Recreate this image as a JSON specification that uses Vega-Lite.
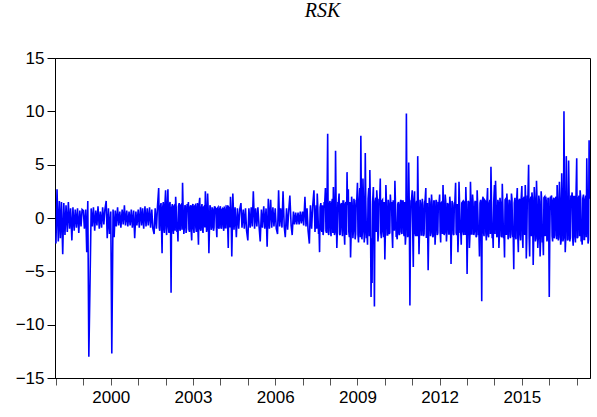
{
"$schema": "https://vega.github.io/schema/vega-lite/v6.json",
"width": 535, "height": 320,
"autosize": {"type": "none"},
"padding": {"left": 55, "top": 58, "right": 7, "bottom": 39},
"background": "white",
"title": {"text": "RSK", "font": "Liberation Serif", "fontStyle": "italic", "fontWeight": "normal", "fontSize": 20, "color": "black", "offset": 28, "anchor": "middle"},
"data": {"values": [
{"d":"1998-01-01","r":-2.4},{"d":"1998-01-15","r":2.7},{"d":"1998-02-01","r":-2.2},{"d":"1998-02-15","r":1.6},{"d":"1998-03-01","r":-1.9},{"d":"1998-03-15","r":1.5},{"d":"1998-04-01","r":-3.4},{"d":"1998-04-15","r":1.4},{"d":"1998-05-01","r":-1.6},{"d":"1998-05-15","r":1.2},{"d":"1998-06-01","r":-1.3},{"d":"1998-06-15","r":1.5},{"d":"1998-07-01","r":-1.0},{"d":"1998-07-15","r":0.9},{"d":"1998-08-01","r":-2.1},{"d":"1998-08-15","r":1.0},{"d":"1998-09-01","r":-1.2},{"d":"1998-09-15","r":0.8},{"d":"1998-10-01","r":-0.9},{"d":"1998-10-15","r":0.9},{"d":"1998-11-01","r":-1.4},{"d":"1998-11-15","r":0.7},{"d":"1998-12-01","r":-0.8},{"d":"1998-12-15","r":0.8},
{"d":"1999-01-01","r":0.7},{"d":"1999-01-15","r":-1.0},{"d":"1999-02-01","r":0.8},{"d":"1999-02-15","r":-3.2},{"d":"1999-03-01","r":1.6},{"d":"1999-03-15","r":-13.0},{"d":"1999-04-01","r":-5.5},{"d":"1999-04-15","r":0.9},{"d":"1999-05-01","r":-0.8},{"d":"1999-05-15","r":1.0},{"d":"1999-06-01","r":-1.2},{"d":"1999-06-15","r":0.7},{"d":"1999-07-01","r":-0.7},{"d":"1999-07-15","r":1.1},{"d":"1999-08-01","r":-1.0},{"d":"1999-08-15","r":0.6},{"d":"1999-09-01","r":-0.9},{"d":"1999-09-15","r":1.0},{"d":"1999-10-01","r":-0.6},{"d":"1999-10-15","r":0.8},{"d":"1999-11-01","r":1.6},{"d":"1999-11-15","r":-1.9},{"d":"1999-12-01","r":0.9},{"d":"1999-12-15","r":-1.5},
{"d":"2000-01-01","r":0.6},{"d":"2000-01-15","r":-12.7},{"d":"2000-02-01","r":0.8},{"d":"2000-02-15","r":-1.8},{"d":"2000-03-01","r":0.7},{"d":"2000-03-15","r":-0.8},{"d":"2000-04-01","r":1.0},{"d":"2000-04-15","r":-0.7},{"d":"2000-05-01","r":0.6},{"d":"2000-05-15","r":-0.9},{"d":"2000-06-01","r":0.8},{"d":"2000-06-15","r":-0.6},{"d":"2000-07-01","r":1.2},{"d":"2000-07-15","r":-0.7},{"d":"2000-08-01","r":0.7},{"d":"2000-08-15","r":-0.8},{"d":"2000-09-01","r":0.6},{"d":"2000-09-15","r":-0.7},{"d":"2000-10-01","r":0.8},{"d":"2000-10-15","r":-0.9},{"d":"2000-11-01","r":0.7},{"d":"2000-11-15","r":-1.9},{"d":"2000-12-01","r":0.6},{"d":"2000-12-15","r":-0.7},
{"d":"2001-01-01","r":0.8},{"d":"2001-01-15","r":-0.9},{"d":"2001-02-01","r":1.0},{"d":"2001-02-15","r":-0.7},{"d":"2001-03-01","r":0.9},{"d":"2001-03-15","r":-1.0},{"d":"2001-04-01","r":1.1},{"d":"2001-04-15","r":-0.8},{"d":"2001-05-01","r":0.9},{"d":"2001-05-15","r":-0.7},{"d":"2001-06-01","r":1.0},{"d":"2001-06-15","r":-0.9},{"d":"2001-07-01","r":0.8},{"d":"2001-07-15","r":-1.0},{"d":"2001-08-01","r":-1.5},{"d":"2001-08-15","r":0.9},{"d":"2001-09-01","r":-1.0},{"d":"2001-09-15","r":1.1},{"d":"2001-10-01","r":2.8},{"d":"2001-10-15","r":-1.2},{"d":"2001-11-01","r":1.4},{"d":"2001-11-15","r":-3.3},{"d":"2001-12-01","r":1.5},{"d":"2001-12-15","r":-1.4},
{"d":"2002-01-01","r":2.6},{"d":"2002-01-15","r":-1.6},{"d":"2002-02-01","r":2.7},{"d":"2002-02-15","r":-1.4},{"d":"2002-03-01","r":1.5},{"d":"2002-03-15","r":-7.0},{"d":"2002-04-01","r":1.3},{"d":"2002-04-15","r":-1.5},{"d":"2002-05-01","r":1.2},{"d":"2002-05-15","r":2.0},{"d":"2002-06-01","r":-1.3},{"d":"2002-06-15","r":-2.2},{"d":"2002-07-01","r":1.4},{"d":"2002-07-15","r":-1.2},{"d":"2002-08-01","r":1.3},{"d":"2002-08-15","r":3.3},{"d":"2002-09-01","r":-1.5},{"d":"2002-09-15","r":1.2},{"d":"2002-10-01","r":-1.4},{"d":"2002-10-15","r":1.3},{"d":"2002-11-01","r":1.5},{"d":"2002-11-15","r":-1.3},{"d":"2002-12-01","r":1.2},{"d":"2002-12-15","r":-2.1},
{"d":"2003-01-01","r":1.3},{"d":"2003-01-15","r":-1.4},{"d":"2003-02-01","r":1.2},{"d":"2003-02-15","r":-1.3},{"d":"2003-03-01","r":1.4},{"d":"2003-03-15","r":-2.5},{"d":"2003-04-01","r":1.9},{"d":"2003-04-15","r":-1.2},{"d":"2003-05-01","r":1.3},{"d":"2003-05-15","r":-1.4},{"d":"2003-06-01","r":1.1},{"d":"2003-06-15","r":2.5},{"d":"2003-07-01","r":-1.3},{"d":"2003-07-15","r":2.3},{"d":"2003-08-01","r":-3.3},{"d":"2003-08-15","r":1.2},{"d":"2003-09-01","r":-1.1},{"d":"2003-09-15","r":1.0},{"d":"2003-10-01","r":-1.2},{"d":"2003-10-15","r":1.1},{"d":"2003-11-01","r":0.9},{"d":"2003-11-15","r":-1.8},{"d":"2003-12-01","r":1.0},{"d":"2003-12-15","r":-1.0},
{"d":"2004-01-01","r":1.1},{"d":"2004-01-15","r":-1.0},{"d":"2004-02-01","r":0.9},{"d":"2004-02-15","r":-1.2},{"d":"2004-03-01","r":1.0},{"d":"2004-03-15","r":-0.9},{"d":"2004-04-01","r":1.2},{"d":"2004-04-15","r":-2.8},{"d":"2004-05-01","r":0.9},{"d":"2004-05-15","r":2.0},{"d":"2004-06-01","r":-3.6},{"d":"2004-06-15","r":2.3},{"d":"2004-07-01","r":-1.1},{"d":"2004-07-15","r":1.0},{"d":"2004-08-01","r":-1.8},{"d":"2004-08-15","r":0.9},{"d":"2004-09-01","r":-1.0},{"d":"2004-09-15","r":0.8},{"d":"2004-10-01","r":1.4},{"d":"2004-10-15","r":-0.9},{"d":"2004-11-01","r":0.8},{"d":"2004-11-15","r":-1.0},{"d":"2004-12-01","r":0.9},{"d":"2004-12-15","r":-1.2},
{"d":"2005-01-01","r":-2.1},{"d":"2005-01-15","r":0.9},{"d":"2005-02-01","r":-0.9},{"d":"2005-02-15","r":1.0},{"d":"2005-03-01","r":-0.8},{"d":"2005-03-15","r":2.5},{"d":"2005-04-01","r":-1.0},{"d":"2005-04-15","r":0.9},{"d":"2005-05-01","r":-0.8},{"d":"2005-05-15","r":1.0},{"d":"2005-06-01","r":-0.9},{"d":"2005-06-15","r":-2.2},{"d":"2005-07-01","r":0.8},{"d":"2005-07-15","r":-0.9},{"d":"2005-08-01","r":1.1},{"d":"2005-08-15","r":-1.0},{"d":"2005-09-01","r":0.9},{"d":"2005-09-15","r":-2.7},{"d":"2005-10-01","r":1.8},{"d":"2005-10-15","r":-1.0},{"d":"2005-11-01","r":1.7},{"d":"2005-11-15","r":-0.9},{"d":"2005-12-01","r":1.0},{"d":"2005-12-15","r":-0.8},
{"d":"2006-01-01","r":0.9},{"d":"2006-01-15","r":-1.0},{"d":"2006-02-01","r":-1.5},{"d":"2006-02-15","r":2.6},{"d":"2006-03-01","r":-0.8},{"d":"2006-03-15","r":0.9},{"d":"2006-04-01","r":-0.9},{"d":"2006-04-15","r":2.5},{"d":"2006-05-01","r":-0.8},{"d":"2006-05-15","r":-1.8},{"d":"2006-06-01","r":0.9},{"d":"2006-06-15","r":-1.1},{"d":"2006-07-01","r":0.8},{"d":"2006-07-15","r":2.1},{"d":"2006-08-01","r":-0.7},{"d":"2006-08-15","r":-1.6},{"d":"2006-09-01","r":0.6},{"d":"2006-09-15","r":-0.6},{"d":"2006-10-01","r":0.5},{"d":"2006-10-15","r":-0.6},{"d":"2006-11-01","r":0.5},{"d":"2006-11-15","r":-0.6},{"d":"2006-12-01","r":0.6},{"d":"2006-12-15","r":-0.5},
{"d":"2007-01-01","r":0.6},{"d":"2007-01-15","r":-0.7},{"d":"2007-02-01","r":2.0},{"d":"2007-02-15","r":-0.8},{"d":"2007-03-01","r":0.9},{"d":"2007-03-15","r":-1.2},{"d":"2007-04-01","r":-2.4},{"d":"2007-04-15","r":1.2},{"d":"2007-05-01","r":-1.0},{"d":"2007-05-15","r":1.1},{"d":"2007-06-01","r":2.6},{"d":"2007-06-15","r":-1.3},{"d":"2007-07-01","r":1.2},{"d":"2007-07-15","r":2.3},{"d":"2007-08-01","r":-1.5},{"d":"2007-08-15","r":-3.2},{"d":"2007-09-01","r":1.4},{"d":"2007-09-15","r":-1.3},{"d":"2007-10-01","r":-1.6},{"d":"2007-10-15","r":1.5},{"d":"2007-11-01","r":2.8},{"d":"2007-11-15","r":-1.4},{"d":"2007-12-01","r":7.9},{"d":"2007-12-15","r":-1.6},
{"d":"2008-01-01","r":1.6},{"d":"2008-01-15","r":-1.7},{"d":"2008-02-01","r":1.8},{"d":"2008-02-15","r":2.9},{"d":"2008-03-01","r":-1.6},{"d":"2008-03-15","r":6.3},{"d":"2008-04-01","r":-2.8},{"d":"2008-04-15","r":1.5},{"d":"2008-05-01","r":2.3},{"d":"2008-05-15","r":-1.6},{"d":"2008-06-01","r":1.4},{"d":"2008-06-15","r":-1.7},{"d":"2008-07-01","r":1.6},{"d":"2008-07-15","r":-2.5},{"d":"2008-08-01","r":1.5},{"d":"2008-08-15","r":4.3},{"d":"2008-09-01","r":2.7},{"d":"2008-09-15","r":-1.8},{"d":"2008-10-01","r":-3.7},{"d":"2008-10-15","r":2.0},{"d":"2008-11-01","r":-1.9},{"d":"2008-11-15","r":1.8},{"d":"2008-12-01","r":-2.0},{"d":"2008-12-15","r":1.7},
{"d":"2009-01-01","r":3.3},{"d":"2009-01-15","r":-2.3},{"d":"2009-02-01","r":2.8},{"d":"2009-02-15","r":7.7},{"d":"2009-03-01","r":-2.0},{"d":"2009-03-15","r":3.7},{"d":"2009-04-01","r":-2.3},{"d":"2009-04-15","r":6.1},{"d":"2009-05-01","r":-1.9},{"d":"2009-05-15","r":-2.5},{"d":"2009-06-01","r":2.8},{"d":"2009-06-15","r":4.5},{"d":"2009-07-01","r":-7.4},{"d":"2009-07-15","r":-6.1},{"d":"2009-08-01","r":2.9},{"d":"2009-08-15","r":-8.3},{"d":"2009-09-01","r":1.9},{"d":"2009-09-15","r":2.6},{"d":"2009-10-01","r":-2.2},{"d":"2009-10-15","r":1.8},{"d":"2009-11-01","r":3.7},{"d":"2009-11-15","r":-1.9},{"d":"2009-12-01","r":1.7},{"d":"2009-12-15","r":-1.8},
{"d":"2010-01-01","r":-3.9},{"d":"2010-01-15","r":3.1},{"d":"2010-02-01","r":-1.6},{"d":"2010-02-15","r":1.7},{"d":"2010-03-01","r":-1.5},{"d":"2010-03-15","r":2.2},{"d":"2010-04-01","r":1.5},{"d":"2010-04-15","r":-2.8},{"d":"2010-05-01","r":1.6},{"d":"2010-05-15","r":3.5},{"d":"2010-06-01","r":-1.7},{"d":"2010-06-15","r":-2.0},{"d":"2010-07-01","r":1.5},{"d":"2010-07-15","r":-1.6},{"d":"2010-08-01","r":1.7},{"d":"2010-08-15","r":-1.5},{"d":"2010-09-01","r":1.6},{"d":"2010-09-15","r":-1.7},{"d":"2010-10-01","r":-2.5},{"d":"2010-10-15","r":9.8},{"d":"2010-11-01","r":-1.8},{"d":"2010-11-15","r":5.2},{"d":"2010-12-01","r":-8.2},{"d":"2010-12-15","r":1.6},
{"d":"2011-01-01","r":2.6},{"d":"2011-01-15","r":-4.6},{"d":"2011-02-01","r":2.5},{"d":"2011-02-15","r":-1.7},{"d":"2011-03-01","r":1.6},{"d":"2011-03-15","r":5.8},{"d":"2011-04-01","r":-3.4},{"d":"2011-04-15","r":1.7},{"d":"2011-05-01","r":-1.6},{"d":"2011-05-15","r":1.8},{"d":"2011-06-01","r":-1.7},{"d":"2011-06-15","r":1.5},{"d":"2011-07-01","r":2.8},{"d":"2011-07-15","r":-1.8},{"d":"2011-08-01","r":-4.9},{"d":"2011-08-15","r":1.9},{"d":"2011-09-01","r":-1.7},{"d":"2011-09-15","r":2.2},{"d":"2011-10-01","r":-1.8},{"d":"2011-10-15","r":1.6},{"d":"2011-11-01","r":-2.5},{"d":"2011-11-15","r":1.7},{"d":"2011-12-01","r":-1.6},{"d":"2011-12-15","r":1.5},
{"d":"2012-01-01","r":2.2},{"d":"2012-01-15","r":-2.3},{"d":"2012-02-01","r":1.5},{"d":"2012-02-15","r":3.1},{"d":"2012-03-01","r":-1.6},{"d":"2012-03-15","r":2.2},{"d":"2012-04-01","r":-2.2},{"d":"2012-04-15","r":1.4},{"d":"2012-05-01","r":-1.5},{"d":"2012-05-15","r":2.0},{"d":"2012-06-01","r":-4.3},{"d":"2012-06-15","r":1.6},{"d":"2012-07-01","r":-1.5},{"d":"2012-07-15","r":1.4},{"d":"2012-08-01","r":3.3},{"d":"2012-08-15","r":-1.6},{"d":"2012-09-01","r":-3.2},{"d":"2012-09-15","r":3.4},{"d":"2012-10-01","r":-1.4},{"d":"2012-10-15","r":-2.5},{"d":"2012-11-01","r":1.5},{"d":"2012-11-15","r":-1.6},{"d":"2012-12-01","r":1.4},{"d":"2012-12-15","r":2.9},
{"d":"2013-01-01","r":-5.25},{"d":"2013-01-15","r":1.6},{"d":"2013-02-01","r":-2.8},{"d":"2013-02-15","r":3.4},{"d":"2013-03-01","r":-1.5},{"d":"2013-03-15","r":2.2},{"d":"2013-04-01","r":-1.6},{"d":"2013-04-15","r":1.5},{"d":"2013-05-01","r":-1.8},{"d":"2013-05-15","r":2.6},{"d":"2013-06-01","r":-1.6},{"d":"2013-06-15","r":-3.6},{"d":"2013-07-01","r":1.7},{"d":"2013-07-15","r":-7.8},{"d":"2013-08-01","r":2.0},{"d":"2013-08-15","r":-1.7},{"d":"2013-09-01","r":1.6},{"d":"2013-09-15","r":-2.1},{"d":"2013-10-01","r":2.8},{"d":"2013-10-15","r":-1.8},{"d":"2013-11-01","r":1.7},{"d":"2013-11-15","r":4.8},{"d":"2013-12-01","r":-1.9},{"d":"2013-12-15","r":-2.8},
{"d":"2014-01-01","r":3.1},{"d":"2014-01-15","r":3.5},{"d":"2014-02-01","r":-1.8},{"d":"2014-02-15","r":1.7},{"d":"2014-03-01","r":-2.8},{"d":"2014-03-15","r":1.9},{"d":"2014-04-01","r":-1.7},{"d":"2014-04-15","r":3.2},{"d":"2014-05-01","r":-1.9},{"d":"2014-05-15","r":-3.7},{"d":"2014-06-01","r":1.8},{"d":"2014-06-15","r":2.3},{"d":"2014-07-01","r":-2.0},{"d":"2014-07-15","r":1.7},{"d":"2014-08-01","r":-1.9},{"d":"2014-08-15","r":2.3},{"d":"2014-09-01","r":-1.8},{"d":"2014-09-15","r":-4.8},{"d":"2014-10-01","r":1.9},{"d":"2014-10-15","r":-2.0},{"d":"2014-11-01","r":2.8},{"d":"2014-11-15","r":-3.2},{"d":"2014-12-01","r":1.8},{"d":"2014-12-15","r":-2.1},
{"d":"2015-01-01","r":3.0},{"d":"2015-01-15","r":-2.8},{"d":"2015-02-01","r":2.0},{"d":"2015-02-15","r":3.1},{"d":"2015-03-01","r":-3.8},{"d":"2015-03-15","r":2.1},{"d":"2015-04-01","r":5.0},{"d":"2015-04-15","r":-3.6},{"d":"2015-05-01","r":2.0},{"d":"2015-05-15","r":2.4},{"d":"2015-06-01","r":-4.4},{"d":"2015-06-15","r":2.9},{"d":"2015-07-01","r":-2.2},{"d":"2015-07-15","r":3.5},{"d":"2015-08-01","r":-2.8},{"d":"2015-08-15","r":2.1},{"d":"2015-09-01","r":-3.6},{"d":"2015-09-15","r":2.5},{"d":"2015-10-01","r":-2.3},{"d":"2015-10-15","r":-3.5},{"d":"2015-11-01","r":2.0},{"d":"2015-11-15","r":2.0},{"d":"2015-12-01","r":-2.2},{"d":"2015-12-15","r":1.9},
{"d":"2016-01-01","r":-7.4},{"d":"2016-01-15","r":2.0},{"d":"2016-02-01","r":2.1},{"d":"2016-02-15","r":-2.2},{"d":"2016-03-01","r":1.9},{"d":"2016-03-15","r":-1.6},{"d":"2016-04-01","r":2.0},{"d":"2016-04-15","r":3.1},{"d":"2016-05-01","r":-2.1},{"d":"2016-05-15","r":3.4},{"d":"2016-06-01","r":-2.5},{"d":"2016-06-15","r":4.2},{"d":"2016-07-01","r":-2.2},{"d":"2016-07-15","r":10.0},{"d":"2016-08-01","r":-3.2},{"d":"2016-08-15","r":5.8},{"d":"2016-09-01","r":-2.1},{"d":"2016-09-15","r":5.4},{"d":"2016-10-01","r":-2.2},{"d":"2016-10-15","r":2.1},{"d":"2016-11-01","r":2.4},{"d":"2016-11-15","r":-2.6},{"d":"2016-12-01","r":2.0},{"d":"2016-12-15","r":-2.3},
{"d":"2017-01-01","r":5.6},{"d":"2017-01-15","r":-1.8},{"d":"2017-02-01","r":2.1},{"d":"2017-02-15","r":2.6},{"d":"2017-03-01","r":-2.2},{"d":"2017-03-15","r":-2.5},{"d":"2017-04-01","r":2.2},{"d":"2017-04-15","r":-2.0},{"d":"2017-05-01","r":2.1},{"d":"2017-05-15","r":5.6},{"d":"2017-06-01","r":-2.4},{"d":"2017-06-15","r":7.3},
{"d":"2001-10-08","r":-0.9},{"d":"2001-10-22","r":1.0},{"d":"2001-11-08","r":-1.1},{"d":"2001-11-22","r":0.9},{"d":"2001-12-08","r":-1.0},{"d":"2001-12-22","r":1.1},
{"d":"2002-01-08","r":-1.0},{"d":"2002-01-22","r":1.1},{"d":"2002-02-08","r":-0.9},{"d":"2002-02-22","r":1.2},{"d":"2002-03-08","r":-1.1},{"d":"2002-03-22","r":0.9},{"d":"2002-04-08","r":-1.0},{"d":"2002-04-22","r":1.1},{"d":"2002-05-08","r":-1.2},{"d":"2002-05-22","r":1.0},{"d":"2002-06-08","r":-0.9},{"d":"2002-06-22","r":1.1},{"d":"2002-07-08","r":-1.0},{"d":"2002-07-22","r":1.2},{"d":"2002-08-08","r":-1.1},{"d":"2002-08-22","r":1.0},{"d":"2002-09-08","r":-0.9},{"d":"2002-09-22","r":1.1},{"d":"2002-10-08","r":-1.0},{"d":"2002-10-22","r":0.9},{"d":"2002-11-08","r":-1.1},{"d":"2002-11-22","r":1.0},{"d":"2002-12-08","r":-1.2},{"d":"2002-12-22","r":1.1},
{"d":"2003-01-08","r":-1.0},{"d":"2003-01-22","r":1.1},{"d":"2003-02-08","r":-0.9},{"d":"2003-02-22","r":1.0},{"d":"2003-03-08","r":-1.1},{"d":"2003-03-22","r":1.2},{"d":"2003-04-08","r":-1.0},{"d":"2003-04-22","r":0.9},{"d":"2003-05-08","r":-1.1},{"d":"2003-05-22","r":1.0},{"d":"2003-06-08","r":-0.9},{"d":"2003-06-22","r":1.1},{"d":"2003-07-08","r":-1.0},{"d":"2003-07-22","r":0.9},{"d":"2003-08-08","r":-1.1},{"d":"2003-08-22","r":1.0},{"d":"2003-09-08","r":-0.9},{"d":"2003-09-22","r":0.8},{"d":"2003-10-08","r":-0.9},{"d":"2003-10-22","r":1.0},{"d":"2003-11-08","r":-0.8},{"d":"2003-11-22","r":0.9},{"d":"2003-12-08","r":-0.9},{"d":"2003-12-22","r":0.8},
{"d":"2004-01-08","r":-0.9},{"d":"2004-01-22","r":0.8},{"d":"2004-02-08","r":-0.8},{"d":"2004-02-22","r":0.9},{"d":"2004-03-08","r":-0.9},{"d":"2004-03-22","r":0.8},{"d":"2004-04-08","r":-0.9},{"d":"2004-04-22","r":1.0},{"d":"2004-05-08","r":-0.9},{"d":"2004-05-22","r":0.8},{"d":"2004-06-08","r":-1.0},{"d":"2004-06-22","r":0.9},
{"d":"2007-07-08","r":-1.0},{"d":"2007-07-22","r":1.1},{"d":"2007-08-08","r":-1.2},{"d":"2007-08-22","r":1.0},{"d":"2007-09-08","r":-1.1},{"d":"2007-09-22","r":1.2},{"d":"2007-10-08","r":-1.0},{"d":"2007-10-22","r":1.3},{"d":"2007-11-08","r":-1.2},{"d":"2007-11-22","r":1.1},{"d":"2007-12-08","r":-1.3},{"d":"2007-12-22","r":1.2},
{"d":"2008-01-08","r":-1.2},{"d":"2008-01-22","r":1.3},{"d":"2008-02-08","r":-1.4},{"d":"2008-02-22","r":1.1},{"d":"2008-03-08","r":-1.3},{"d":"2008-03-22","r":1.5},{"d":"2008-04-08","r":-1.2},{"d":"2008-04-22","r":1.4},{"d":"2008-05-08","r":-1.5},{"d":"2008-05-22","r":1.2},{"d":"2008-06-08","r":-1.1},{"d":"2008-06-22","r":1.6},{"d":"2008-07-08","r":-1.4},{"d":"2008-07-22","r":1.3},{"d":"2008-08-08","r":-1.6},{"d":"2008-08-22","r":1.2},{"d":"2008-09-08","r":-1.3},{"d":"2008-09-22","r":1.5},{"d":"2008-10-08","r":-1.7},{"d":"2008-10-22","r":1.4},{"d":"2008-11-08","r":-1.2},{"d":"2008-11-22","r":1.3},{"d":"2008-12-08","r":-1.5},{"d":"2008-12-22","r":1.6},
{"d":"2009-01-08","r":-1.6},{"d":"2009-01-22","r":1.4},{"d":"2009-02-08","r":-1.8},{"d":"2009-02-22","r":1.5},{"d":"2009-03-08","r":-1.3},{"d":"2009-03-22","r":1.7},{"d":"2009-04-08","r":-1.5},{"d":"2009-04-22","r":1.6},{"d":"2009-05-08","r":-1.4},{"d":"2009-05-22","r":1.8},{"d":"2009-06-08","r":-1.7},{"d":"2009-06-22","r":1.3},{"d":"2009-07-08","r":-1.9},{"d":"2009-07-22","r":1.5},{"d":"2009-08-08","r":-1.6},{"d":"2009-08-22","r":1.4},{"d":"2009-09-08","r":-1.3},{"d":"2009-09-22","r":1.7},{"d":"2009-10-08","r":-1.5},{"d":"2009-10-22","r":1.2},{"d":"2009-11-08","r":-1.4},{"d":"2009-11-22","r":1.6},{"d":"2009-12-08","r":-1.3},{"d":"2009-12-22","r":1.5},
{"d":"2010-01-08","r":-1.3},{"d":"2010-01-22","r":1.5},{"d":"2010-02-08","r":-1.6},{"d":"2010-02-22","r":1.2},{"d":"2010-03-08","r":-1.4},{"d":"2010-03-22","r":1.3},{"d":"2010-04-08","r":-1.5},{"d":"2010-04-22","r":1.6},{"d":"2010-05-08","r":-1.2},{"d":"2010-05-22","r":1.4},{"d":"2010-06-08","r":-1.7},{"d":"2010-06-22","r":1.3},{"d":"2010-07-08","r":-1.5},{"d":"2010-07-22","r":1.2},{"d":"2010-08-08","r":-1.3},{"d":"2010-08-22","r":1.6},{"d":"2010-09-08","r":-1.4},{"d":"2010-09-22","r":1.5},{"d":"2010-10-08","r":-1.6},{"d":"2010-10-22","r":1.3},{"d":"2010-11-08","r":-1.5},{"d":"2010-11-22","r":1.4},{"d":"2010-12-08","r":-1.3},{"d":"2010-12-22","r":1.7},
{"d":"2011-01-08","r":-1.5},{"d":"2011-01-22","r":1.6},{"d":"2011-02-08","r":-1.4},{"d":"2011-02-22","r":1.3},{"d":"2011-03-08","r":-1.7},{"d":"2011-03-22","r":1.5},{"d":"2011-04-08","r":-1.3},{"d":"2011-04-22","r":1.4},{"d":"2011-05-08","r":-1.6},{"d":"2011-05-22","r":1.2},{"d":"2011-06-08","r":-1.5},{"d":"2011-06-22","r":1.7},{"d":"2011-07-08","r":-1.8},{"d":"2011-07-22","r":1.4},{"d":"2011-08-08","r":-1.6},{"d":"2011-08-22","r":1.5},{"d":"2011-09-08","r":-1.4},{"d":"2011-09-22","r":1.3},{"d":"2011-10-08","r":-1.7},{"d":"2011-10-22","r":1.6},{"d":"2011-11-08","r":-1.3},{"d":"2011-11-22","r":1.5},{"d":"2011-12-08","r":-1.4},{"d":"2011-12-22","r":1.2},
{"d":"2012-01-08","r":-1.3},{"d":"2012-01-22","r":1.4},{"d":"2012-02-08","r":-1.5},{"d":"2012-02-22","r":1.2},{"d":"2012-03-08","r":-1.4},{"d":"2012-03-22","r":1.6},{"d":"2012-04-08","r":-1.2},{"d":"2012-04-22","r":1.3},{"d":"2012-05-08","r":-1.5},{"d":"2012-05-22","r":1.4},{"d":"2012-06-08","r":-1.3},{"d":"2012-06-22","r":1.2},{"d":"2012-07-08","r":-1.6},{"d":"2012-07-22","r":1.5},{"d":"2012-08-08","r":-1.4},{"d":"2012-08-22","r":1.3},{"d":"2012-09-08","r":-1.5},{"d":"2012-09-22","r":1.6},{"d":"2012-10-08","r":-1.2},{"d":"2012-10-22","r":1.4},{"d":"2012-11-08","r":-1.3},{"d":"2012-11-22","r":1.5},{"d":"2012-12-08","r":-1.6},{"d":"2012-12-22","r":1.3},
{"d":"2013-01-08","r":-1.4},{"d":"2013-01-22","r":1.5},{"d":"2013-02-08","r":-1.6},{"d":"2013-02-22","r":1.3},{"d":"2013-03-08","r":-1.5},{"d":"2013-03-22","r":1.4},{"d":"2013-04-08","r":-1.3},{"d":"2013-04-22","r":1.6},{"d":"2013-05-08","r":-1.7},{"d":"2013-05-22","r":1.2},{"d":"2013-06-08","r":-1.5},{"d":"2013-06-22","r":1.4},{"d":"2013-07-08","r":-1.6},{"d":"2013-07-22","r":1.5},{"d":"2013-08-08","r":-1.3},{"d":"2013-08-22","r":1.7},{"d":"2013-09-08","r":-1.4},{"d":"2013-09-22","r":1.5},{"d":"2013-10-08","r":-1.6},{"d":"2013-10-22","r":1.3},{"d":"2013-11-08","r":-1.5},{"d":"2013-11-22","r":1.6},{"d":"2013-12-08","r":-1.4},{"d":"2013-12-22","r":1.5},
{"d":"2014-01-08","r":-1.5},{"d":"2014-01-22","r":1.6},{"d":"2014-02-08","r":-1.7},{"d":"2014-02-22","r":1.4},{"d":"2014-03-08","r":-1.6},{"d":"2014-03-22","r":1.5},{"d":"2014-04-08","r":-1.8},{"d":"2014-04-22","r":1.3},{"d":"2014-05-08","r":-1.5},{"d":"2014-05-22","r":1.7},{"d":"2014-06-08","r":-1.6},{"d":"2014-06-22","r":1.4},{"d":"2014-07-08","r":-1.7},{"d":"2014-07-22","r":1.6},{"d":"2014-08-08","r":-1.5},{"d":"2014-08-22","r":1.8},{"d":"2014-09-08","r":-1.6},{"d":"2014-09-22","r":1.4},{"d":"2014-10-08","r":-1.7},{"d":"2014-10-22","r":1.5},{"d":"2014-11-08","r":-1.8},{"d":"2014-11-22","r":1.6},{"d":"2014-12-08","r":-1.5},{"d":"2014-12-22","r":1.7},
{"d":"2015-01-08","r":-1.7},{"d":"2015-01-22","r":1.8},{"d":"2015-02-08","r":-1.6},{"d":"2015-02-22","r":1.5},{"d":"2015-03-08","r":-1.9},{"d":"2015-03-22","r":1.7},{"d":"2015-04-08","r":-1.8},{"d":"2015-04-22","r":1.6},{"d":"2015-05-08","r":-1.7},{"d":"2015-05-22","r":1.9},{"d":"2015-06-08","r":-1.6},{"d":"2015-06-22","r":1.8},{"d":"2015-07-08","r":-1.9},{"d":"2015-07-22","r":1.7},{"d":"2015-08-08","r":-1.8},{"d":"2015-08-22","r":1.6},{"d":"2015-09-08","r":-2.0},{"d":"2015-09-22","r":1.7},{"d":"2015-10-08","r":-1.8},{"d":"2015-10-22","r":1.9},{"d":"2015-11-08","r":-1.7},{"d":"2015-11-22","r":1.6},{"d":"2015-12-08","r":-1.9},{"d":"2015-12-22","r":1.8},
{"d":"2016-01-08","r":-1.8},{"d":"2016-01-22","r":1.9},{"d":"2016-02-08","r":-1.7},{"d":"2016-02-22","r":1.6},{"d":"2016-03-08","r":-1.9},{"d":"2016-03-22","r":1.8},{"d":"2016-04-08","r":-2.0},{"d":"2016-04-22","r":1.7},{"d":"2016-05-08","r":-1.8},{"d":"2016-05-22","r":1.9},{"d":"2016-06-08","r":-2.1},{"d":"2016-06-22","r":1.8},{"d":"2016-07-08","r":-1.9},{"d":"2016-07-22","r":2.0},{"d":"2016-08-08","r":-1.8},{"d":"2016-08-22","r":1.7},{"d":"2016-09-08","r":-2.0},{"d":"2016-09-22","r":1.9},{"d":"2016-10-08","r":-1.8},{"d":"2016-10-22","r":1.7},{"d":"2016-11-08","r":-1.9},{"d":"2016-11-22","r":2.0},{"d":"2016-12-08","r":-1.8},{"d":"2016-12-22","r":1.9},
{"d":"2017-01-08","r":-1.9},{"d":"2017-01-22","r":1.8},{"d":"2017-02-08","r":-1.7},{"d":"2017-02-22","r":2.0},{"d":"2017-03-08","r":-1.9},{"d":"2017-03-22","r":1.8},{"d":"2017-04-08","r":-2.0},{"d":"2017-04-22","r":1.7},{"d":"2017-05-08","r":-1.8},{"d":"2017-05-22","r":1.9},{"d":"2017-06-08","r":-2.0},{"d":"2017-06-22","r":1.8}
]},
"mark": {"type": "line", "color": "#0000FF", "strokeWidth": 1.6, "clip": true},
"encoding": {
  "x": {"field": "d", "type": "temporal",
    "scale": {"type": "utc", "domain": ["1997-12-19", "2017-06-27"]},
    "axis": {"title": null, "grid": false, "values": [
      {"year":1998,"month":1,"date":1,"utc":true},{"year":1999,"month":1,"date":1,"utc":true},{"year":2000,"month":1,"date":1,"utc":true},{"year":2001,"month":1,"date":1,"utc":true},{"year":2002,"month":1,"date":1,"utc":true},{"year":2003,"month":1,"date":1,"utc":true},{"year":2004,"month":1,"date":1,"utc":true},{"year":2005,"month":1,"date":1,"utc":true},{"year":2006,"month":1,"date":1,"utc":true},{"year":2007,"month":1,"date":1,"utc":true},{"year":2008,"month":1,"date":1,"utc":true},{"year":2009,"month":1,"date":1,"utc":true},{"year":2010,"month":1,"date":1,"utc":true},{"year":2011,"month":1,"date":1,"utc":true},{"year":2012,"month":1,"date":1,"utc":true},{"year":2013,"month":1,"date":1,"utc":true},{"year":2014,"month":1,"date":1,"utc":true},{"year":2015,"month":1,"date":1,"utc":true},{"year":2016,"month":1,"date":1,"utc":true},{"year":2017,"month":1,"date":1,"utc":true}],
      "labelExpr": "utcyear(datum.value) % 3 == 2 ? utcFormat(datum.value, '%Y') : ''",
      "labelFont": "Liberation Sans", "labelFontSize": 17, "labelColor": "black",
      "labelPadding": 4, "labelAngle": 0, "labelOverlap": false, "labelFlush": false,
      "tickColor": "#555555", "tickSize": 7, "domainColor": "black"}},
  "y": {"field": "r", "type": "quantitative",
    "scale": {"domain": [-15, 15], "nice": false},
    "axis": {"title": null, "grid": false, "values": [-15, -10, -5, 0, 5, 10, 15],
      "labelFont": "Liberation Sans", "labelFontSize": 17, "labelColor": "black",
      "labelPadding": 3, "labelFlush": false, "tickColor": "black", "tickSize": 8, "domainColor": "black"}}
},
"config": {"view": {"stroke": "black", "strokeWidth": 1}}
}
